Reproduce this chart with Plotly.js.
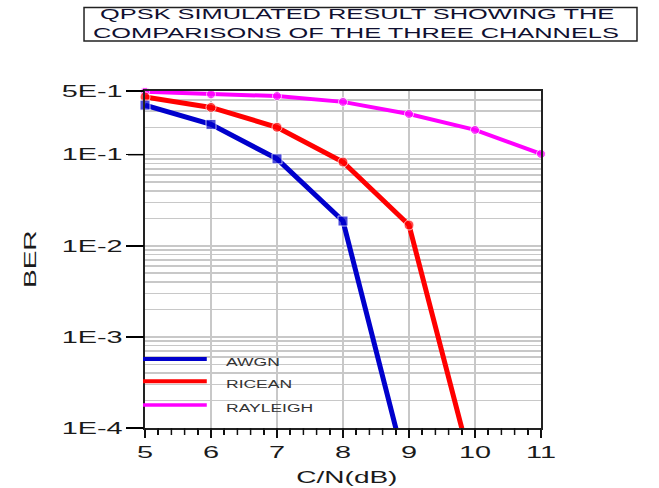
<!DOCTYPE html>
<html><head><meta charset="utf-8">
<script src="https://cdn.plot.ly/plotly-3.0.1.min.js"></script>
<style>html,body{margin:0;padding:0;background:#fff;}</style>
</head><body>
<div id="chart" style="width:659px;height:488px"></div>
<script>
// ---- data ----
const awgnX = [5, 6, 7, 8, 9];
const awgnBER = [0.35, 0.215, 0.09, 0.0187, 2.7e-5];
const riceanX = [5, 6, 7, 8, 9, 10];
const riceanBER = [0.43, 0.33, 0.20, 0.083, 0.0169, 2.75e-5];
const rayleighX = [5, 6, 7, 8, 9, 10, 11];
const rayleighBER = [0.49, 0.46, 0.44, 0.38, 0.28, 0.187, 0.102];
const seriesNames = ['AWGN', 'RICEAN', 'RAYLEIGH'];
const xTickVals = [5, 6, 7, 8, 9, 10, 11];
const yTickVals = [1e-4, 1e-3, 1e-2, 1e-1, 0.5];
const yTickText = ['1E-4', '1E-3', '1E-2', '1E-1', '5E-1'];
const titleText = '\u00a0QPSK SIMULATED RESULT SHOWING THE<br>COMPARISONS OF THE THREE CHANNELS';
const xTitle = 'C/N(dB)';
const yTitle = 'BER';

// ---- styles ----
const colors = ['#0000cc', '#ff0000', '#ff00ff'];
const FONT = 'Liberation Sans, Arial, sans-serif';
const TXT = '#1a1a1a';
const Y_RANGE = [-4, Math.log10(0.5)];
const PLOT_W = 396, PLOT_H = 337;

// minor grid positions (log decades)
const minorVals = [];
for (let e = -4; e <= -1; e++) {
  for (let m = 2; m <= 9; m++) {
    const v = m * Math.pow(10, e);
    if (v < 0.5) minorVals.push(v);
  }
}

// marker size 0 for points that fall below the axis range
const hideBelow = (arr, s) => arr.map(v => v < 1e-4 ? 0 : s);

const traces = [
  {x: rayleighX, y: rayleighBER, name: seriesNames[2], mode: 'lines+markers',
   line: {color: colors[2], width: 4}, marker: {symbol: 'circle', size: hideBelow(rayleighBER, 9), color: colors[2]}},
  {x: riceanX, y: riceanBER, name: seriesNames[1], mode: 'lines+markers',
   line: {color: colors[1], width: 5}, marker: {symbol: 'circle', size: hideBelow(riceanBER, 10), color: colors[1]}},
  {x: awgnX, y: awgnBER, name: seriesNames[0], mode: 'lines+markers',
   line: {color: colors[0], width: 5}, marker: {symbol: 'square', size: hideBelow(awgnBER, 10), color: colors[0]}}
].map(t => Object.assign(t, {showlegend: false, cliponaxis: false}));

// legend drawn as paper-positioned samples
const legendY = [0.205, 0.139, 0.068];
const shapes = seriesNames.map((n, i) => ({
  type: 'line', xref: 'paper', yref: 'paper', x0: -0.005, x1: 0.156, y0: legendY[i], y1: legendY[i],
  line: {color: colors[i], width: i === 2 ? 3.5 : 4}
}));
shapes.push({type: 'rect', xref: 'paper', yref: 'paper', x0: -0.154, x1: 1.2424, y0: 1.148, y1: 1.2475,
  line: {color: '#222', width: 1.5}, fillcolor: 'rgba(0,0,0,0)', layer: 'above'});

// axis tick dashes (outside), placed at the axis tick values
yTickVals.forEach(v => {
  const p = (Math.log10(v) - Y_RANGE[0]) / (Y_RANGE[1] - Y_RANGE[0]);
  shapes.push({type: 'line', xref: 'paper', yref: 'paper', x0: -17 / PLOT_W, x1: -1 / PLOT_W, y0: p, y1: p,
    line: {color: '#000', width: 1.5}});
});
for (let k = 0; k <= 30; k++) {
  const xv = 5 + k * 0.2;
  const major = k % 5 === 0;
  shapes.push({type: 'line', xref: 'x', yref: 'paper', x0: xv, x1: xv, y0: 0, y1: -(major ? 10 : 7) / PLOT_H,
    line: {color: '#111', width: 1.5}});
}

const annotations = seriesNames.map((n, i) => ({
  text: n, xref: 'paper', yref: 'paper', x: 0.199, y: legendY[i] - 0.01, xanchor: 'left', yanchor: 'middle',
  showarrow: false, font: {family: FONT, size: 10, color: '#333'}
}));
annotations.push({
  text: titleText, xref: 'paper', yref: 'paper', x: -0.137, y: 1.2, xanchor: 'left', yanchor: 'middle',
  align: 'left', showarrow: false, font: {family: FONT, size: 14.5, color: '#101030'}
});
// axis titles
annotations.push({
  text: xTitle, xref: 'paper', yref: 'paper', x: 0.51, y: -0.148, xanchor: 'center', yanchor: 'middle',
  showarrow: false, font: {family: FONT, size: 16, color: TXT}
});
annotations.push({
  text: yTitle, xref: 'paper', yref: 'paper', x: -0.29, y: 0.5, xanchor: 'center', yanchor: 'middle',
  textangle: -90, showarrow: false, font: {family: FONT, size: 16, color: TXT}
});

const layout = {
  width: 659, height: 488,
  margin: {l: 145, r: 118, t: 91, b: 60},
  paper_bgcolor: '#fff', plot_bgcolor: '#fff',
  font: {family: FONT, color: TXT},
  showlegend: false,
  xaxis: {
    range: [5, 11], tickvals: xTickVals, ticks: 'outside', ticklen: 8, tickwidth: 1.5, tickcolor: '#111',
    showline: true, linecolor: '#222', linewidth: 2, mirror: true,
    showgrid: true, gridcolor: '#c8c8c8', gridwidth: 2, zeroline: false,
    tickfont: {size: 16.5, color: TXT},
    minor: {dtick: 0.2, ticks: 'outside', ticklen: 5, tickwidth: 1.5, tickcolor: '#111', showgrid: false}
  },
  yaxis: {
    type: 'log', range: Y_RANGE,
    tickvals: yTickVals, ticktext: yTickText, ticks: 'outside', ticklen: 17, tickwidth: 1.5, tickcolor: '#000',
    showline: true, linecolor: '#222', linewidth: 2, mirror: true,
    showgrid: true, gridcolor: '#c8c8c8', gridwidth: 1.5, zeroline: false,
    tickfont: {size: 16.5, color: TXT},
    minor: {tickvals: minorVals, ticks: '', showgrid: true, gridcolor: '#c8c8c8', gridwidth: 1.5}
  },
  shapes: shapes,
  annotations: annotations
};

Plotly.newPlot('chart', traces, layout, {staticPlot: true, displayModeBar: false}).then(gd => {
  // the reference's horizontal text is rendered wide; stretch glyphs horizontally,
  // keeping each label's anchor point where the library put it
  const STRETCH = 1.75;
  gd.querySelectorAll('text').forEach(t => {
    const tr = t.getAttribute('transform') || '';
    if (tr.indexOf('rotate') >= 0) return;
    const lines = t.querySelectorAll('tspan.line');
    if (lines.length) {
      lines.forEach(el => {
        const w = el.getComputedTextLength();
        if (w > 0) {
          el.setAttribute('textLength', (w * STRETCH).toFixed(1));
          el.setAttribute('lengthAdjust', 'spacingAndGlyphs');
        }
      });
      return;
    }
    const w = t.getComputedTextLength();
    if (!(w > 0)) return;
    const b0 = t.getBBox();
    const isAnn = t.classList.contains('annotation-text');
    const anchor = t.getAttribute('text-anchor') || 'start';
    t.setAttribute('textLength', (w * STRETCH).toFixed(1));
    t.setAttribute('lengthAdjust', 'spacingAndGlyphs');
    const b1 = t.getBBox();
    let dx = 0;
    if (isAnn && seriesNames.indexOf(t.textContent) >= 0) dx = b0.x - b1.x;
    else if (anchor === 'end') dx = (b0.x + b0.width) - (b1.x + b1.width);
    else if (anchor === 'middle' || isAnn) dx = (b0.x + b0.width / 2) - (b1.x + b1.width / 2);
    else dx = b0.x - b1.x;
    if (Math.abs(dx) > 0.1) {
      const x = parseFloat(t.getAttribute('x') || '0');
      t.setAttribute('x', (x + dx).toFixed(2));
    }
  });
});
</script>
</body></html>
